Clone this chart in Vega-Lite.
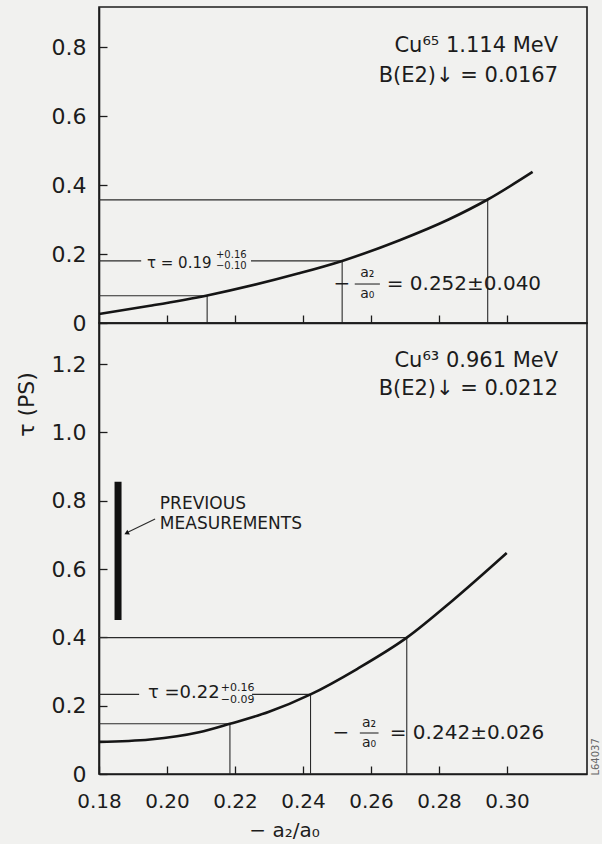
{
  "$schema": "https://vega.github.io/schema/vega-lite/v6.json",
  "background": "#f1f1ef",
  "padding": {"left": 14, "top": 6, "right": 4, "bottom": 4},
  "spacing": 0,
  "bounds": "flush",
  "config": {
    "font": "DejaVu Sans",
    "view": {"stroke": "#1c1c1c", "strokeWidth": 1.6},
    "axis": {"domainColor": "#1c1c1c", "domainWidth": 1.6, "tickColor": "#1c1c1c", "tickWidth": 1.3, "labelColor": "#1c1c1c", "labelFont": "DejaVu Sans", "titleFont": "DejaVu Sans", "titleColor": "#1c1c1c", "titleFontWeight": "normal", "grid": false, "labelFlush": false},
    "text": {"color": "#1c1c1c"}
  },
  "vconcat": [
    {
      "width": 488,
      "height": 316,
      "encoding": {
        "x": {"field": "x", "type": "quantitative", "scale": {"domain": [0.18, 0.3235], "nice": false, "zero": false},
              "axis": {"values": [0.18, 0.2, 0.22, 0.24, 0.26, 0.28, 0.3], "labels": false, "title": null, "tickSize": -8}},
        "y": {"field": "y", "type": "quantitative", "scale": {"domain": [0, 0.916], "nice": false},
              "axis": {"values": [0, 0.2, 0.4, 0.6, 0.8], "title": null, "tickSize": -8, "labelPadding": 21, "labelFontSize": 22,
                       "labelExpr": "datum.value == 0 ? '0' : format(datum.value, '.1f')"}}
      },
      "layer": [
        {
          "data": {"values": [
            {"x": 0.18, "x2": 0.2943, "y": 0.357, "y2": 0.357},
            {"x": 0.2943, "x2": 0.2943, "y": 0, "y2": 0.357},
            {"x": 0.18, "x2": 0.1924, "y": 0.18, "y2": 0.18},
            {"x": 0.2247, "x2": 0.2515, "y": 0.18, "y2": 0.18},
            {"x": 0.2515, "x2": 0.2515, "y": 0, "y2": 0.18},
            {"x": 0.18, "x2": 0.2118, "y": 0.079, "y2": 0.079},
            {"x": 0.2118, "x2": 0.2118, "y": 0, "y2": 0.079},
            {"x": 0.2552, "x2": 0.2626, "y": 0.113, "y2": 0.113}
          ]},
          "mark": {"type": "rule", "color": "#2a2a2a", "strokeWidth": 1.1},
          "encoding": {"x2": {"field": "x2"}, "y2": {"field": "y2"}}
        },
        {
          "data": {"values": [
            {"x": 0.18, "y": 0.026}, {"x": 0.195, "y": 0.05}, {"x": 0.2118, "y": 0.08},
            {"x": 0.2388, "y": 0.144}, {"x": 0.2515, "y": 0.18}, {"x": 0.2684, "y": 0.24},
            {"x": 0.2828, "y": 0.3}, {"x": 0.2943, "y": 0.358}, {"x": 0.3075, "y": 0.438}
          ]},
          "mark": {"type": "line", "color": "#151515", "strokeWidth": 2.6, "interpolate": "monotone"}
        },
        {
          "data": {"values": [
            {"x": 0.315, "y": 0.803, "label": "Cu⁶⁵ 1.114 MeV"},
            {"x": 0.315, "y": 0.716, "label": "B(E2)↓ = 0.0167"}
          ]},
          "mark": {"type": "text", "align": "right", "baseline": "middle", "fontSize": 21},
          "encoding": {"text": {"field": "label"}}
        },
        {
          "data": {"values": [{"x": 0.2646, "y": 0.113, "label": "= 0.252±0.040"}]},
          "mark": {"type": "text", "align": "left", "baseline": "middle", "fontSize": 20},
          "encoding": {"text": {"field": "label"}}
        },
        {
          "data": {"values": [{"x": 0.2514, "y": 0.113, "label": "−"}]},
          "mark": {"type": "text", "align": "center", "baseline": "middle", "fontSize": 20},
          "encoding": {"text": {"field": "label"}}
        },
        {
          "data": {"values": [
            {"x": 0.2589, "y": 0.145, "label": "a₂"},
            {"x": 0.2589, "y": 0.084, "label": "a₀"}
          ]},
          "mark": {"type": "text", "align": "center", "baseline": "middle", "fontSize": 14},
          "encoding": {"text": {"field": "label"}}
        },
        {
          "data": {"values": [{"x": 0.1941, "y": 0.174, "label": "τ = 0.19"}]},
          "mark": {"type": "text", "align": "left", "baseline": "middle", "fontSize": 15},
          "encoding": {"text": {"field": "label"}}
        },
        {
          "data": {"values": [
            {"x": 0.2144, "y": 0.196, "label": "+0.16"},
            {"x": 0.2144, "y": 0.165, "label": "−0.10"}
          ]},
          "mark": {"type": "text", "align": "left", "baseline": "middle", "fontSize": 10},
          "encoding": {"text": {"field": "label"}}
        }
      ]
    },
    {
      "width": 488,
      "height": 451,
      "encoding": {
        "x": {"field": "x", "type": "quantitative", "scale": {"domain": [0.18, 0.3235], "nice": false, "zero": false},
              "axis": {"values": [0.18, 0.2, 0.22, 0.24, 0.26, 0.28, 0.3], "format": ".2f", "tickSize": -8, "labelPadding": 25, "labelFontSize": 20,
                       "title": "− a₂/a₀", "titleFontSize": 20, "titleX": 185, "titleY": 56, "titleAlign": "center", "titleBaseline": "middle"}},
        "y": {"field": "y", "type": "quantitative", "scale": {"domain": [0, 1.32], "nice": false},
              "axis": {"values": [0, 0.2, 0.4, 0.6, 0.8, 1.0, 1.2], "tickSize": -8, "labelPadding": 21, "labelFontSize": 22,
                       "labelExpr": "datum.value == 0 ? '0' : format(datum.value, '.1f')",
                       "title": "τ (PS)", "titleFontSize": 22, "titleAngle": 270, "titleX": -73, "titleY": 81, "titleAlign": "center", "titleBaseline": "middle"}}
      },
      "layer": [
        {
          "data": {"values": [
            {"x": 0.18, "x2": 0.2705, "y": 0.399, "y2": 0.399},
            {"x": 0.2705, "x2": 0.2705, "y": 0, "y2": 0.399},
            {"x": 0.18, "x2": 0.1918, "y": 0.233, "y2": 0.233},
            {"x": 0.225, "x2": 0.2422, "y": 0.233, "y2": 0.233},
            {"x": 0.2422, "x2": 0.2422, "y": 0, "y2": 0.233},
            {"x": 0.18, "x2": 0.2185, "y": 0.147, "y2": 0.147},
            {"x": 0.2185, "x2": 0.2185, "y": 0, "y2": 0.147},
            {"x": 0.2567, "x2": 0.2622, "y": 0.12, "y2": 0.12},
            {"x": 0.1965, "x2": 0.1886, "y": 0.746, "y2": 0.708}
          ]},
          "mark": {"type": "rule", "color": "#2a2a2a", "strokeWidth": 1.1},
          "encoding": {"x2": {"field": "x2"}, "y2": {"field": "y2"}}
        },
        {
          "data": {"values": [{"x": 0.1856, "y": 0.451, "y2": 0.855}]},
          "mark": {"type": "rule", "color": "#111111", "strokeWidth": 7},
          "encoding": {"y2": {"field": "y2"}}
        },
        {
          "data": {"values": [{"x": 0.1883, "y": 0.706}]},
          "mark": {"type": "point", "shape": "triangle", "filled": true, "color": "#111111", "size": 30, "angle": 243, "opacity": 1}
        },
        {
          "data": {"values": [
            {"x": 0.18, "y": 0.094}, {"x": 0.195, "y": 0.101}, {"x": 0.2094, "y": 0.122},
            {"x": 0.2185, "y": 0.147}, {"x": 0.23, "y": 0.182}, {"x": 0.2422, "y": 0.233},
            {"x": 0.256, "y": 0.308}, {"x": 0.2705, "y": 0.399}, {"x": 0.284, "y": 0.508},
            {"x": 0.2999, "y": 0.647}
          ]},
          "mark": {"type": "line", "color": "#151515", "strokeWidth": 2.6, "interpolate": "monotone"}
        },
        {
          "data": {"values": [
            {"x": 0.315, "y": 1.209, "label": "Cu⁶³ 0.961 MeV"},
            {"x": 0.315, "y": 1.127, "label": "B(E2)↓ = 0.0212"}
          ]},
          "mark": {"type": "text", "align": "right", "baseline": "middle", "fontSize": 21},
          "encoding": {"text": {"field": "label"}}
        },
        {
          "data": {"values": [
            {"x": 0.1979, "y": 0.79, "label": "PREVIOUS"},
            {"x": 0.1979, "y": 0.732, "label": "MEASUREMENTS"}
          ]},
          "mark": {"type": "text", "align": "left", "baseline": "middle", "fontSize": 17},
          "encoding": {"text": {"field": "label"}}
        },
        {
          "data": {"values": [{"x": 0.2655, "y": 0.12, "label": "= 0.242±0.026"}]},
          "mark": {"type": "text", "align": "left", "baseline": "middle", "fontSize": 20},
          "encoding": {"text": {"field": "label"}}
        },
        {
          "data": {"values": [{"x": 0.2511, "y": 0.12, "label": "−"}]},
          "mark": {"type": "text", "align": "center", "baseline": "middle", "fontSize": 20},
          "encoding": {"text": {"field": "label"}}
        },
        {
          "data": {"values": [
            {"x": 0.2594, "y": 0.149, "label": "a₂"},
            {"x": 0.2594, "y": 0.092, "label": "a₀"}
          ]},
          "mark": {"type": "text", "align": "center", "baseline": "middle", "fontSize": 14},
          "encoding": {"text": {"field": "label"}}
        },
        {
          "data": {"values": [{"x": 0.1944, "y": 0.237, "label": "τ =0.22"}]},
          "mark": {"type": "text", "align": "left", "baseline": "middle", "fontSize": 18},
          "encoding": {"text": {"field": "label"}}
        },
        {
          "data": {"values": [
            {"x": 0.2158, "y": 0.252, "label": "+0.16"},
            {"x": 0.2158, "y": 0.217, "label": "−0.09"}
          ]},
          "mark": {"type": "text", "align": "left", "baseline": "middle", "fontSize": 11},
          "encoding": {"text": {"field": "label"}}
        },
        {
          "data": {"values": [{"x": 0.326, "y": 0.05, "label": "L64037"}]},
          "mark": {"type": "text", "align": "center", "baseline": "middle", "fontSize": 10, "angle": 270, "color": "#666666"},
          "encoding": {"text": {"field": "label"}}
        }
      ]
    }
  ]
}
